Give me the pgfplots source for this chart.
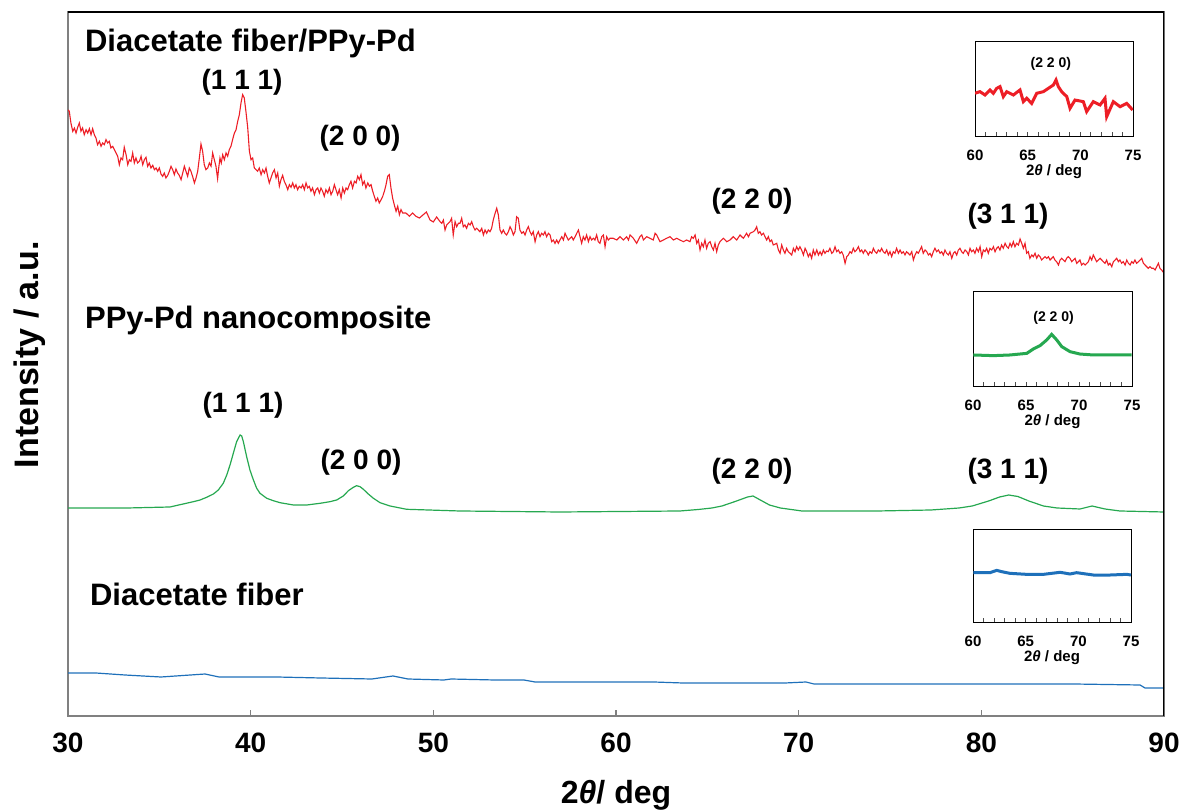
\documentclass[border=0pt]{standalone}
\usepackage{pgfplots}
\pgfplotsset{compat=1.18}
\usepackage{fontspec}
\setmainfont{Liberation Sans}

\definecolor{xrdred}{RGB}{237,30,38}
\definecolor{xrdgreen}{RGB}{38,168,80}
\definecolor{xrdblue}{RGB}{30,112,186}

\tikzset{
  peak/.style={font=\bfseries\fontsize{14}{14}\selectfont},
  sample/.style={font=\bfseries\fontsize{15.5}{15.5}\selectfont, anchor=west},
}
\pgfplotsset{
  inset/.style={
    anchor=south west, scale only axis,
    xmin=60, xmax=75, ymin=0, ymax=100,
    xtick={60,65,70,75}, minor xtick={61,62,63,64,66,67,68,69,71,72,73,74},
    ytick=\empty, tick align=inside, xtick pos=left,
    major tick length=2.5pt, minor tick length=2.5pt,
    tick style={black!70, line width=0.4pt},
    axis line style={line width=0.5pt},
    axis background/.style={fill=white},
    /pgf/number format/assume math mode=true,
    xticklabel style={font=\bfseries\fontsize{7.5}{7.5}\selectfont, yshift=-3pt},
    xlabel={2\textit{θ} / deg},
    xlabel style={font=\bfseries\fontsize{7.5}{7.5}\selectfont,
      at={(axis description cs:0.5,0)}, anchor=center, yshift=-17.5pt},
  },
}

\begin{document}
\begin{tikzpicture}
\begin{axis}[
  at={(0,0)}, anchor=south west, scale only axis,
  width=548pt, height=352pt,
  xmin=30, xmax=90, ymin=0, ymax=704,
  xtick={30,40,...,90}, ytick=\empty,
  tick align=inside, xtick pos=left, major tick length=3pt,
  tick style={gray, line width=0.6pt},
  axis line style={gray, line width=0.8pt},
  /pgf/number format/assume math mode=true,
  xticklabel style={font=\bfseries\fontsize{14}{14}\selectfont, yshift=-5pt},
  xlabel={2\textit{θ}/ deg},
  xlabel style={font=\bfseries\fontsize{16}{16}\selectfont,
    at={(axis description cs:0.5,0)}, anchor=center, yshift=-39.5pt},
  ylabel={Intensity / a.u.},
  ylabel style={font=\bfseries\fontsize{17}{17}\selectfont,
    at={(axis description cs:0,0.513)}, anchor=center, yshift=19pt},
]
% Diacetate fiber/PPy-Pd
\addplot[xrdred, line width=0.55pt] coordinates {
(30.00,606) (30.07,604.7) (30.16,593) (30.26,584.7) (30.35,588) (30.44,583) (30.53,588.7)
(30.62,593) (30.71,584.7) (30.80,588) (30.89,581.3) (30.99,586.3) (31.08,583)
(31.17,587.3) (31.26,581.3) (31.35,587.3) (31.44,581.3) (31.53,578) (31.62,571.3)
(31.72,574.7) (31.81,569.7) (31.90,573) (31.99,571.3) (32.08,576.3) (32.17,573)
(32.26,574.7) (32.35,568) (32.45,569.7) (32.54,566.3) (32.63,563) (32.72,559.7)
(32.81,551.3) (32.90,558) (32.99,556.3) (33.08,568.7) (33.18,561.3) (33.27,551.3)
(33.36,556.3) (33.45,554.7) (33.54,563) (33.63,553) (33.72,558) (33.81,553)
(33.91,554.7) (34.00,559.7) (34.09,551.3) (34.18,556.3) (34.27,558.7) (34.36,549.7)
(34.45,553) (34.54,548) (34.64,550.7) (34.73,546.3) (34.82,548) (34.91,544.7)
(35.00,548) (35.09,542) (35.18,539.7) (35.27,543) (35.36,538) (35.46,540.7)
(35.55,544.7) (35.64,549.7) (35.73,546.3) (35.82,541.3) (35.91,547) (36.00,543)
(36.09,540.7) (36.19,536.3) (36.28,543) (36.37,549.7) (36.46,544.7) (36.55,539.7)
(36.64,548) (36.73,544.7) (36.82,539.7) (36.92,533) (37.01,538) (37.10,544.7)
(37.19,558) (37.28,572) (37.37,564.7) (37.46,551.3) (37.55,546.3) (37.65,548)
(37.74,553) (37.83,549.7) (37.92,563) (38.01,556.3) (38.10,549.7) (38.19,537.3)
(38.25,548) (38.32,558) (38.39,553) (38.47,561.3) (38.56,556.3) (38.65,563)
(38.74,559.7) (38.83,566.3) (38.92,569.7) (39.01,576.3) (39.11,583) (39.20,586.3)
(39.29,594.7) (39.38,601.3) (39.47,613) (39.56,621.3) (39.65,618) (39.74,604.7)
(39.84,588) (39.93,564.7) (40.02,556.3) (40.11,558) (40.20,548) (40.29,546.3)
(40.38,544.7) (40.47,548) (40.57,541.3) (40.66,546.3) (40.75,543) (40.84,548)
(40.93,539.7) (41.02,533) (41.11,538) (41.20,543) (41.30,546.3) (41.39,538)
(41.48,543) (41.57,529.7) (41.66,536.3) (41.75,540.7) (41.84,534.7) (41.93,531.3)
(42.03,526.3) (42.12,531.3) (42.21,528.7) (42.30,533) (42.39,528) (42.48,531.3)
(42.57,526.3) (42.66,529.7) (42.76,528) (42.85,531.3) (42.94,526.3) (43.03,533)
(43.12,528) (43.21,529.7) (43.30,524.7) (43.39,528) (43.49,521.3) (43.58,526.3)
(43.67,528) (43.76,523) (43.85,528) (43.94,524.7) (44.03,519.7) (44.12,526.3)
(44.22,523) (44.31,528) (44.40,521.3) (44.49,524.7) (44.58,531.3) (44.67,526.3)
(44.76,521.3) (44.85,526.3) (44.95,518) (45.04,528) (45.13,523) (45.22,528)
(45.31,526.3) (45.40,531.3) (45.49,534.7) (45.58,528) (45.68,534.7) (45.77,533)
(45.86,539.7) (45.95,536.3) (46.04,541.3) (46.13,531.3) (46.22,534.7) (46.31,528)
(46.41,533) (46.50,529.7) (46.59,531.3) (46.68,524.7) (46.77,519.7) (46.86,514.7)
(46.95,518) (47.04,513) (47.14,516.3) (47.23,519.7) (47.32,524.7) (47.41,531.3)
(47.50,539.7) (47.59,541.3) (47.68,528) (47.77,518) (47.86,511.3) (47.96,504.7)
(48.05,509.7) (48.14,501.3) (48.23,506.3) (48.32,503) (48.50,503) (48.69,499.7)
(48.87,503) (49.05,499.7) (49.24,498) (49.43,501) (49.62,504) (49.82,496)
(50.00,494) (50.18,499)
(50.37,494.3) (50.46,492.7) (50.55,496) (50.64,486) (50.73,491) (50.82,492.7)
(50.91,494.3) (51.00,497.7) (51.09,481) (51.19,494.3) (51.28,489.3) (51.37,492.7)
(51.46,492.7) (51.55,497.7) (51.64,489.3) (51.73,491) (51.82,487.7) (51.92,492.7)
(52.01,491) (52.10,494.3) (52.19,489.3) (52.28,486) (52.37,487.7) (52.46,486)
(52.55,484.3) (52.65,487.7) (52.74,481) (52.83,486) (52.92,482.7) (53.01,486)
(53.10,484.3) (53.19,487.7) (53.28,496) (53.38,502.7) (53.47,507.7) (53.56,501)
(53.65,486) (53.74,482.7) (53.83,486) (53.92,482.7) (54.01,481) (54.11,484.3)
(54.20,489.3) (54.29,486) (54.38,481) (54.47,484.3) (54.56,499.3) (54.65,497.7)
(54.74,486) (54.84,482.7) (54.93,484.3) (55.02,481) (55.11,486) (55.20,489.3)
(55.29,484.3) (55.38,481) (55.47,484.3) (55.57,474.3) (55.66,481) (55.75,484.3)
(55.84,479.3) (55.93,482.7) (56.02,481) (56.11,484.3) (56.20,479.3) (56.30,482.7)
(56.39,481) (56.48,474.3) (56.57,476) (56.66,472.7) (56.75,476) (56.84,472.7)
(56.93,476) (57.03,479.3) (57.12,476) (57.21,482.7) (57.30,479.3) (57.39,476)
(57.48,477.7) (57.57,479.3) (57.66,476) (57.76,479.3) (57.85,482.7) (57.94,486)
(58.03,479.3) (58.12,472.7) (58.21,479.3) (58.30,476) (58.39,481) (58.49,474.3)
(58.58,479.3) (58.67,476) (58.76,477.7) (58.85,476) (58.94,481) (59.03,474.3)
(59.12,472.7) (59.22,479.3) (59.31,481) (59.40,469.3) (59.49,479.3) (59.58,476)
(59.67,477.7) (59.85,477.7) (60.04,476) (60.22,479.3) (60.40,476) (60.58,479.3)
(60.68,476) (60.77,481) (60.95,477.7) (61.13,472.7) (61.31,479.3) (61.41,481)
(61.50,476) (61.68,479.3) (61.86,477.7) (62.04,476) (62.14,482.7) (62.23,481)
(62.41,474.3) (62.59,476) (62.77,477.7) (62.96,479.3) (63.14,476) (63.32,477.7)
(63.50,476) (63.69,474.3) (63.87,476) (64.05,474.3) (64.14,479.3) (64.23,477.7)
(64.33,481) (64.42,472.7) (64.51,476) (64.60,466) (64.69,472.7) (64.78,469.3)
(64.87,476) (64.96,467.7) (65.05,472.7) (65.15,474.3) (65.24,469.3) (65.33,466)
(65.42,472.7) (65.51,464.3) (65.60,471) (65.69,474.3) (65.88,477.7) (66.06,474.3)
(66.24,476) (66.42,479.3) (66.61,476) (66.79,481) (66.88,479.3) (66.97,477.7)
(67.15,482.7) (67.25,479.3) (67.34,482.7) (67.52,484.3) (67.61,486) (67.70,489.3)
(67.79,482.7) (67.88,484.3) (67.97,481) (68.07,482.7) (68.16,479.3) (68.25,476)
(68.34,479.3) (68.43,474.3) (68.52,476) (68.61,471) (68.80,472.7) (68.89,466)
(68.98,462.7) (69.07,471) (69.16,466) (69.25,462.7) (69.34,467.7) (69.43,464.3)
(69.53,462.7) (69.62,461) (69.71,467.7) (69.80,464.3) (69.89,469.3) (69.98,466)
(70.07,469.3) (70.16,466) (70.26,461) (70.35,467.7) (70.44,464.3) (70.53,459.3)
(70.62,462.7) (70.71,457.7) (70.80,466) (70.89,461) (70.99,466) (71.08,461)
(71.17,464.3)
(71.26,461) (71.35,466) (71.44,462.7) (71.53,465) (71.62,464.3) (71.71,467.7)
(71.81,462.7) (71.90,464.3) (71.99,469.3) (72.08,464.3) (72.17,466) (72.26,462.7)
(72.35,464.3) (72.44,461) (72.54,452.7) (72.63,459.3) (72.72,461) (72.81,464.3)
(72.90,462.7) (72.99,467.7) (73.08,464.3) (73.17,466) (73.27,469.3) (73.36,464.3)
(73.45,466) (73.54,462.7) (73.63,466) (73.72,464.3) (73.81,461) (73.90,464.3)
(74.00,462.7) (74.09,467.7) (74.18,464.3) (74.27,462.7) (74.36,466) (74.45,464.3)
(74.54,467.7) (74.63,464.3) (74.73,462.7) (74.82,466) (74.91,461) (75.00,464.3)
(75.09,459.3) (75.18,464.3) (75.27,462.7) (75.36,467.7) (75.46,462.7) (75.55,466)
(75.64,462.7) (75.73,464.3) (75.82,461) (75.91,464.3) (76.00,462.7) (76.09,461)
(76.19,464.3) (76.28,456) (76.37,461) (76.46,464.3) (76.55,462.7) (76.64,466)
(76.73,469.3) (76.82,462.7) (76.92,466) (77.01,464.3) (77.10,461) (77.19,462.7)
(77.28,459.3) (77.37,464.3) (77.46,467.7) (77.55,464.3) (77.65,466) (77.74,462.7)
(77.83,464.3) (77.92,461) (78.01,466) (78.10,462.7) (78.19,461) (78.28,464.3)
(78.38,457.7) (78.47,462.7) (78.56,464.3) (78.65,461) (78.74,466) (78.83,467.7)
(78.92,464.3) (79.01,462.7) (79.11,466) (79.20,464.3) (79.29,461) (79.38,467.7)
(79.47,464.3) (79.56,466) (79.65,462.7) (79.74,467.7) (79.84,464.3) (79.93,469.3)
(80.02,459.3) (80.11,466) (80.20,464.3) (80.29,467.7) (80.38,462.7) (80.47,467.7)
(80.57,466) (80.66,469.3) (80.75,464.3) (80.84,467.7) (80.93,469.3) (81.02,466)
(81.11,471) (81.20,467.7) (81.30,472.7) (81.39,469.3) (81.48,467.7) (81.57,472.7)
(81.66,469.3) (81.75,474.3) (81.84,469.3) (81.93,472.7) (82.03,471) (82.12,477)
(82.21,472.7) (82.30,467.7) (82.39,472.7) (82.48,462.7) (82.57,464.3) (82.66,457.7)
(82.76,461) (82.85,459.3) (82.94,462.7) (83.03,457.7) (83.12,461) (83.21,459.3)
(83.30,456) (83.39,457.7) (83.49,459.3) (83.58,457.7) (83.67,459.3) (83.76,456)
(83.85,457.7) (83.94,459.3) (84.03,456) (84.12,454.3) (84.22,451) (84.31,456)
(84.40,457.7) (84.49,456) (84.58,454.3) (84.67,457.7) (84.76,459.3) (84.85,457.7)
(84.95,454.3) (85.04,456) (85.13,457.7) (85.22,452.7) (85.31,454.3) (85.40,456)
(85.49,451) (85.58,452.7) (85.68,451) (85.77,452.7) (85.86,454.3) (85.95,459.3)
(86.04,456) (86.13,461) (86.22,457.7) (86.31,454.3) (86.41,456) (86.50,457.7)
(86.59,456) (86.68,454.3) (86.77,452.7) (86.86,456) (86.95,451) (87.04,452.7)
(87.14,449.3) (87.23,454.3) (87.32,456) (87.41,457.7) (87.50,454.3) (87.59,456)
(87.68,452.7) (87.77,454.3) (87.87,451) (87.96,456) (88.05,452.7) (88.14,451)
(88.23,454.3) (88.32,452.7) (88.41,456) (88.50,452.7) (88.60,454.3) (88.69,456)
(88.78,457.7) (88.87,452.7) (88.96,451) (89.05,449.3) (89.14,447.7) (89.23,449.3)
(89.33,447.7) (89.42,447.7) (89.51,446) (89.60,449.3) (89.69,452.7) (89.78,447.7)
(89.87,446) (89.96,443.7)
};
% PPy-Pd nanocomposite
\addplot[xrdgreen, line width=0.6pt] coordinates {
(30.00,208) (31.50,208) (33.23,208) (35.58,209) (36.86,214.3) (37.23,216)
(37.59,218.7) (37.96,222) (38.23,226) (38.50,232.7) (38.69,241) (38.87,251)
(39.05,262.7) (39.23,274.3) (39.42,281) (39.51,280) (39.60,274.3) (39.78,259.3)
(39.96,246) (40.15,236) (40.33,227.7) (40.51,222.7) (40.88,217.7) (41.24,215.3)
(41.61,213.3) (42.34,211) (43.07,211) (43.80,212.7) (44.34,214.3) (44.71,216)
(45.07,220) (45.35,225.3) (45.62,228.7) (45.80,230.3) (45.99,229.3) (46.17,226.7)
(46.44,222) (46.72,217.7) (47.08,213.3) (47.63,210) (48.54,206.7) (51.46,205)
(56.93,204) (63.50,205) (64.50,206.5) (65.25,208) (65.80,210) (66.60,215)
(67.20,219) (67.50,220) (67.80,217) (68.40,211) (69.00,208) (70.18,205)
(74.29,205) (77.24,206) (78.78,208) (79.50,210) (80.40,215) (81.00,219)
(81.50,221) (82.00,219.5) (82.60,215) (83.40,210) (84.14,208) (85.40,207)
(86.06,210) (86.77,207) (87.59,205) (90.00,204)
};
% Diacetate fiber
\addplot[xrdblue, line width=0.6pt] coordinates {
(30.00,43) (30.16,43) (31.53,43) (33.12,41) (35.09,39) (37.50,42)
(38.27,39) (41.44,39) (43.85,38) (46.64,37) (47.79,40) (48.61,37)
(50.58,36) (50.97,37) (53.38,36) (54.96,36) (55.57,34) (62.08,34)
(63.67,33) (69.25,33) (70.40,34) (70.84,32) (77.96,32) (85.07,32)
(88.69,31) (88.96,28) (90.00,28)
};
\node[sample] at (axis cs:30.55,673) {Diacetate fiber/PPy-Pd};
\node[peak] at (axis cs:39.53,634) {(1 1 1)};
\node[peak] at (axis cs:45.99,578) {(2 0 0)};
\node[peak] at (axis cs:67.45,515) {(2 2 0)};
\node[peak] at (axis cs:81.46,500) {(3 1 1)};
\node[sample] at (axis cs:30.55,396) {PPy-Pd nanocomposite};
\node[peak] at (axis cs:39.58,311) {(1 1 1)};
\node[peak] at (axis cs:46.04,254) {(2 0 0)};
\node[peak] at (axis cs:67.45,245) {(2 2 0)};
\node[peak] at (axis cs:81.46,245) {(3 1 1)};
\node[sample] at (axis cs:30.82,122) {Diacetate fiber};
\draw[black, line width=0.8pt] (rel axis cs:0,1) -- (rel axis cs:1,1) -- (rel axis cs:1,0);
\end{axis}

% inset: Diacetate fiber/PPy-Pd
\begin{axis}[inset, at={(453.5pt,289.5pt)}, width=79pt, height=47.5pt]
\addplot[xrdred, line width=1.5pt] coordinates {
(60.00,46.0) (60.47,47.7) (60.95,44.2) (61.42,49.5) (61.74,46.0) (62.06,51.2)
(62.37,53.0) (62.69,42.5) (63.01,47.7) (63.64,44.2) (64.27,49.5) (64.59,37.2)
(64.91,40.7) (65.38,35.4) (65.86,46.0) (66.49,47.7) (66.96,51.2) (67.44,54.7)
(67.69,60.0) (67.91,53.0) (68.23,47.7) (68.71,42.5) (69.02,30.2) (69.49,38.9)
(70.28,37.2) (70.60,26.7) (71.23,37.2) (71.87,33.7) (72.34,40.7) (72.50,21.4)
(73.13,37.2) (73.77,31.9) (74.40,35.4) (74.97,28.4)
};
\node[font=\bfseries\fontsize{7}{7}\selectfont] at (axis cs:67.2,77) {(2 2 0)};
\end{axis}

% inset: PPy-Pd nanocomposite
\begin{axis}[inset, at={(452.5pt,164.5pt)}, width=79.5pt, height=47.5pt]
\addplot[xrdgreen, line width=1.5pt] coordinates {
(60.03,33.7) (61.92,33.0) (63.49,33.7) (65.07,35.4) (65.69,40.0) (66.32,43.5)
(66.95,49.5) (67.42,55.4) (67.90,49.5) (68.37,42.5) (69.15,37.2) (70.09,34.7)
(71.35,33.7) (72.92,33.7) (74.97,33.7)
};
\node[font=\bfseries\fontsize{7}{7}\selectfont] at (axis cs:67.6,73) {(2 2 0)};
\end{axis}

% inset: Diacetate fiber
\begin{axis}[inset, at={(452.5pt,46.5pt)}, width=79pt, height=46.5pt]
\addplot[xrdblue, line width=1.5pt] coordinates {
(60.03,54.1) (61.61,54.1) (62.25,56.6) (62.72,55.2) (63.51,53.4) (65.10,52.3)
(66.68,52.3) (68.26,54.5) (69.21,52.7) (69.84,54.1) (71.42,51.6) (73.01,51.6)
(74.59,52.3) (75.00,51.6)
};
\end{axis}

\pgfresetboundingbox
\path (-34pt,-48pt) rectangle (559pt,358pt);
\end{tikzpicture}
\end{document}
